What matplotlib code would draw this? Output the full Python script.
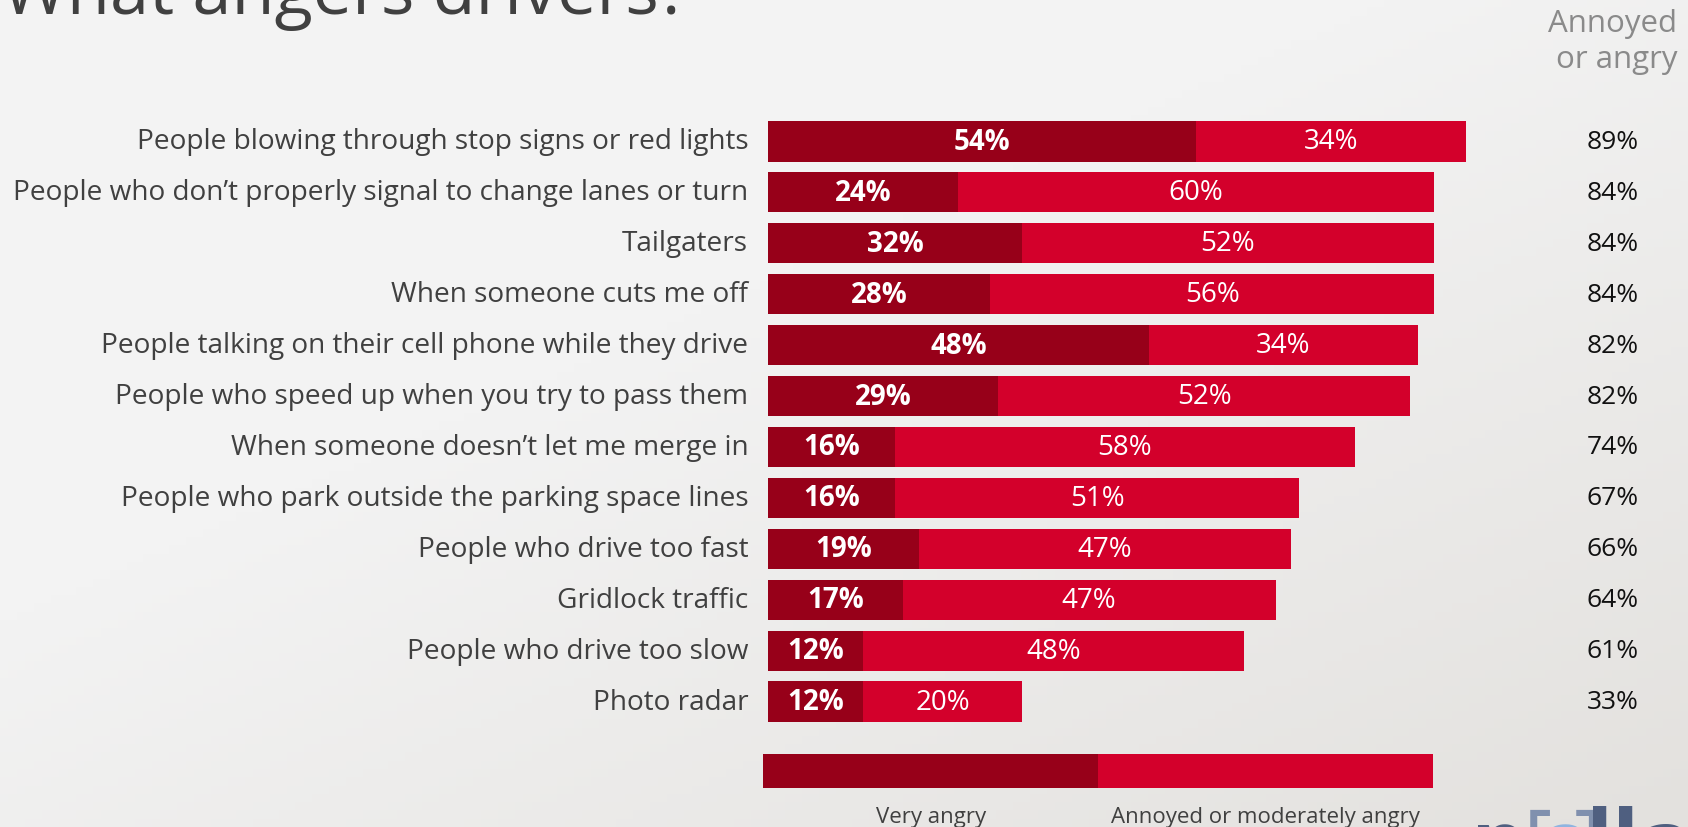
import numpy as np
import matplotlib.pyplot as plt
from matplotlib.colors import LinearSegmentedColormap

# donnees
categories = [
    "People blowing through stop signs or red lights",
    "People who don\u2019t properly signal to change lanes or turn",
    "Tailgaters",
    "When someone cuts me off",
    "People talking on their cell phone while they drive",
    "People who speed up when you try to pass them",
    "When someone doesn\u2019t let me merge in",
    "People who park outside the parking space lines",
    "People who drive too fast",
    "Gridlock traffic",
    "People who drive too slow",
    "Photo radar",
]
very_angry = [54, 24, 32, 28, 48, 29, 16, 16, 19, 17, 12, 12]
moderately = [34, 60, 52, 56, 34, 52, 58, 51, 47, 47, 48, 20]
total = [89, 84, 84, 84, 82, 82, 74, 67, 66, 64, 61, 33]

legend_labels = ["Very angry", "Annoyed or moderately angry"]

dark = "#970019"
light = "#D3002B"
texte = "#404040"

W, H = 1688, 828
plt.rcParams['font.family'] = ['Open Sans', 'DejaVu Sans']

fig = plt.figure(figsize=(W / 100, H / 100), dpi=100)

# fond en degrade
bg = fig.add_axes([0, 0, 1, 1])
gx, gy = np.meshgrid(np.linspace(0, 1, 200), np.linspace(0, 1, 100))
grad = np.clip(0.55 * gx + 0.6 * gy - 0.45, 0, 1)
cmap_bg = LinearSegmentedColormap.from_list("bg", ["#F3F3F3", "#E3E1DE"])
bg.imshow(grad, cmap=cmap_bg, aspect='auto', extent=[0, 1, 0, 1], origin='upper')
bg.set_axis_off()


def px(x0, y0, x1, y1):
    # rectangle en pixels (origine en haut a gauche) -> fractions
    return [x0 / W, 1 - y1 / H, (x1 - x0) / W, (y1 - y0) / H]


# axes principaux: 0% a x=768px, 7.93 px par %
x_left = 768
px_per = 7.93
n = len(categories)
row_top, row_bot = 117, 728
ax = fig.add_axes(px(x_left, row_top, x_left + 100 * px_per, row_bot))
ax.set_xlim(0, 100)
ax.set_ylim(n - 0.5, -0.5)
ax.set_axis_off()

y = np.arange(n)
ax.barh(y, very_angry, height=0.79, color=dark, edgecolor='none')
ax.barh(y, moderately, left=very_angry, height=0.79, color=light, edgecolor='none')

for i in range(n):
    ax.text(very_angry[i] / 2, i, f"{very_angry[i]}%", ha='center', va='center',
            color='white', fontsize=20, fontweight='bold')
    ax.text(very_angry[i] + moderately[i] / 2, i, f"{moderately[i]}%", ha='center',
            va='center', color='white', fontsize=20)
    ax.text(-2.5, i, categories[i], ha='right', va='center', color=texte,
            fontsize=20.2, clip_on=False)
    ax.text((1613 - x_left) / px_per, i, f"{total[i]}%", ha='center', va='center',
            color='#111111', fontsize=19, clip_on=False)

# titre coupe en haut
fig.text(2 / W, 1 - 14 / H, "What angers drivers?", ha='left', va='baseline',
         fontsize=50.6, color=texte)
fig.text(1677 / W, 1 - 32 / H, "Annoyed", ha='right', va='baseline',
         fontsize=22.5, color='#8A8A8A')
fig.text(1677 / W, 1 - 68 / H, "or angry", ha='right', va='baseline',
         fontsize=22.5, color='#8A8A8A')

# legende
lax = fig.add_axes(px(763, 755, 1433, 789))
lax.barh([0], [1], color=dark, height=1)
lax.barh([0], [1], left=[1], color=light, height=1)
lax.set_xlim(0, 2)
lax.set_ylim(-0.5, 0.5)
lax.set_axis_off()
fig.text(931 / W, 1 - 818 / H, legend_labels[0], ha='center', va='center',
         fontsize=16, color=texte, family=['Liberation Sans Narrow', 'Open Sans'])
fig.text(1265 / W, 1 - 818 / H, legend_labels[1], ha='center', va='center',
         fontsize=16, color=texte, family=['Liberation Sans Narrow', 'Open Sans'])

# logo coupe en bas a droite
logo = [("p", 1471, '#4F5F80', 'bold'), ("[", 1523, '#8090AE', 'normal'),
        ("o", 1538, '#8FB4E0', 'bold'), ("]", 1574, '#8090AE', 'normal'),
        ("l", 1586, '#4F5F80', 'bold'), ("l", 1612, '#4F5F80', 'bold'),
        ("a", 1638, '#4F5F80', 'bold')]
for ch, xl, col, wt in logo:
    fig.text(xl / W, 1 - 874 / H, ch, ha='left', va='baseline',
             fontsize=64, fontweight=wt, color=col)

fig.savefig("out.png", dpi=100)
